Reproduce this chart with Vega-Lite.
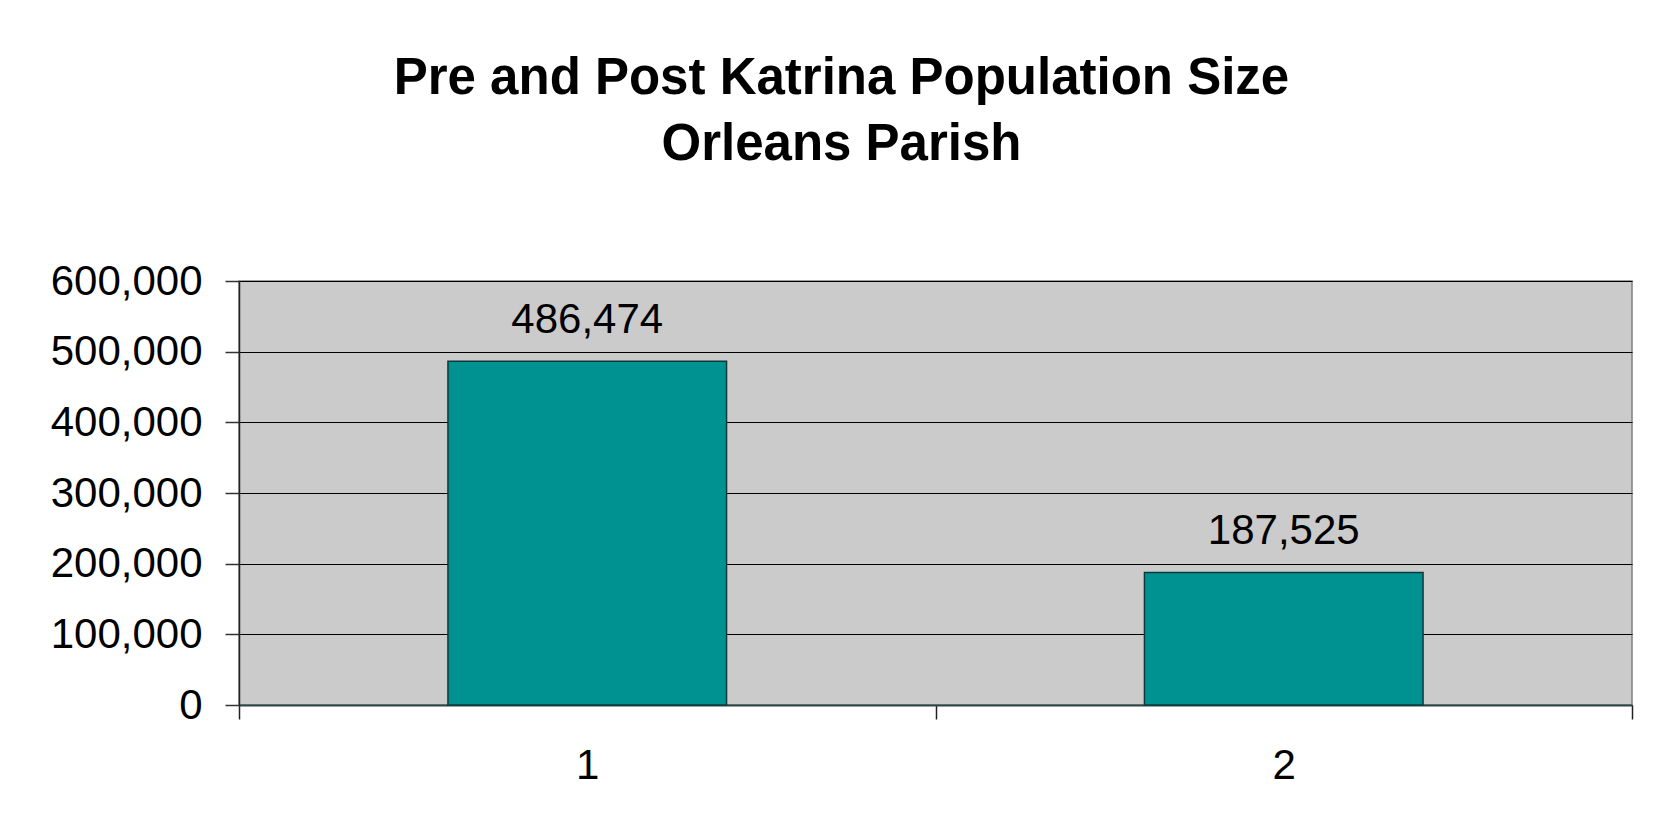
{
  "$schema": "https://vega.github.io/schema/vega-lite/v6.json",
  "autosize": {"type": "none"},
  "width": 1393,
  "height": 424,
  "padding": {"left": 239, "top": 281, "right": 22, "bottom": 132},
  "background": "white",
  "title": {
    "text": ["Pre and Post Katrina Population Size", "Orleans Parish"],
    "font": "Liberation Sans",
    "fontSize": 51,
    "fontWeight": "bold",
    "lineHeight": 66,
    "color": "black",
    "anchor": "middle",
    "frame": "bounds",
    "offset": 89
  },
  "config": {
    "view": {"fill": "#cbcbcb", "stroke": "#808080", "strokeWidth": 1.5},
    "axis": {
      "labelFont": "Liberation Sans",
      "labelFontSize": 42,
      "labelColor": "black",
      "titleFont": "Liberation Sans"
    }
  },
  "data": {
    "values": [
      {"period": "1", "population": 486474},
      {"period": "2", "population": 187525}
    ]
  },
  "encoding": {
    "x": {
      "field": "period",
      "type": "nominal",
      "scale": {"paddingInner": 0, "paddingOuter": 0},
      "axis": {
        "title": null,
        "labelAngle": 0,
        "tickBand": "extent",
        "ticks": true,
        "tickSize": 14,
        "tickColor": "#222222",
        "tickWidth": 1.5,
        "domain": true,
        "domainColor": "#2f4545",
        "domainWidth": 2,
        "labelPadding": 26,
        "grid": false
      }
    },
    "y": {
      "field": "population",
      "type": "quantitative",
      "scale": {"domain": [0, 600000], "nice": false},
      "axis": {
        "title": null,
        "values": [0, 100000, 200000, 300000, 400000, 500000, 600000],
        "format": ",d",
        "tickSize": 14,
        "tickColor": "#333333",
        "tickWidth": 1.5,
        "domain": true,
        "domainColor": "#222222",
        "domainWidth": 1.5,
        "labelPadding": 23,
        "grid": true,
        "gridColor": "black",
        "gridWidth": 1.2
      }
    }
  },
  "layer": [
    {
      "mark": {"type": "bar", "width": {"band": 0.4}, "fill": "#009191", "stroke": "#0c3a3a", "strokeWidth": 1.5}
    },
    {
      "mark": {
        "type": "text",
        "font": "Liberation Sans",
        "fontSize": 42,
        "color": "black",
        "baseline": "alphabetic",
        "align": "center",
        "dy": -28
      },
      "encoding": {
        "text": {"field": "population", "type": "quantitative", "format": ","}
      }
    }
  ]
}
